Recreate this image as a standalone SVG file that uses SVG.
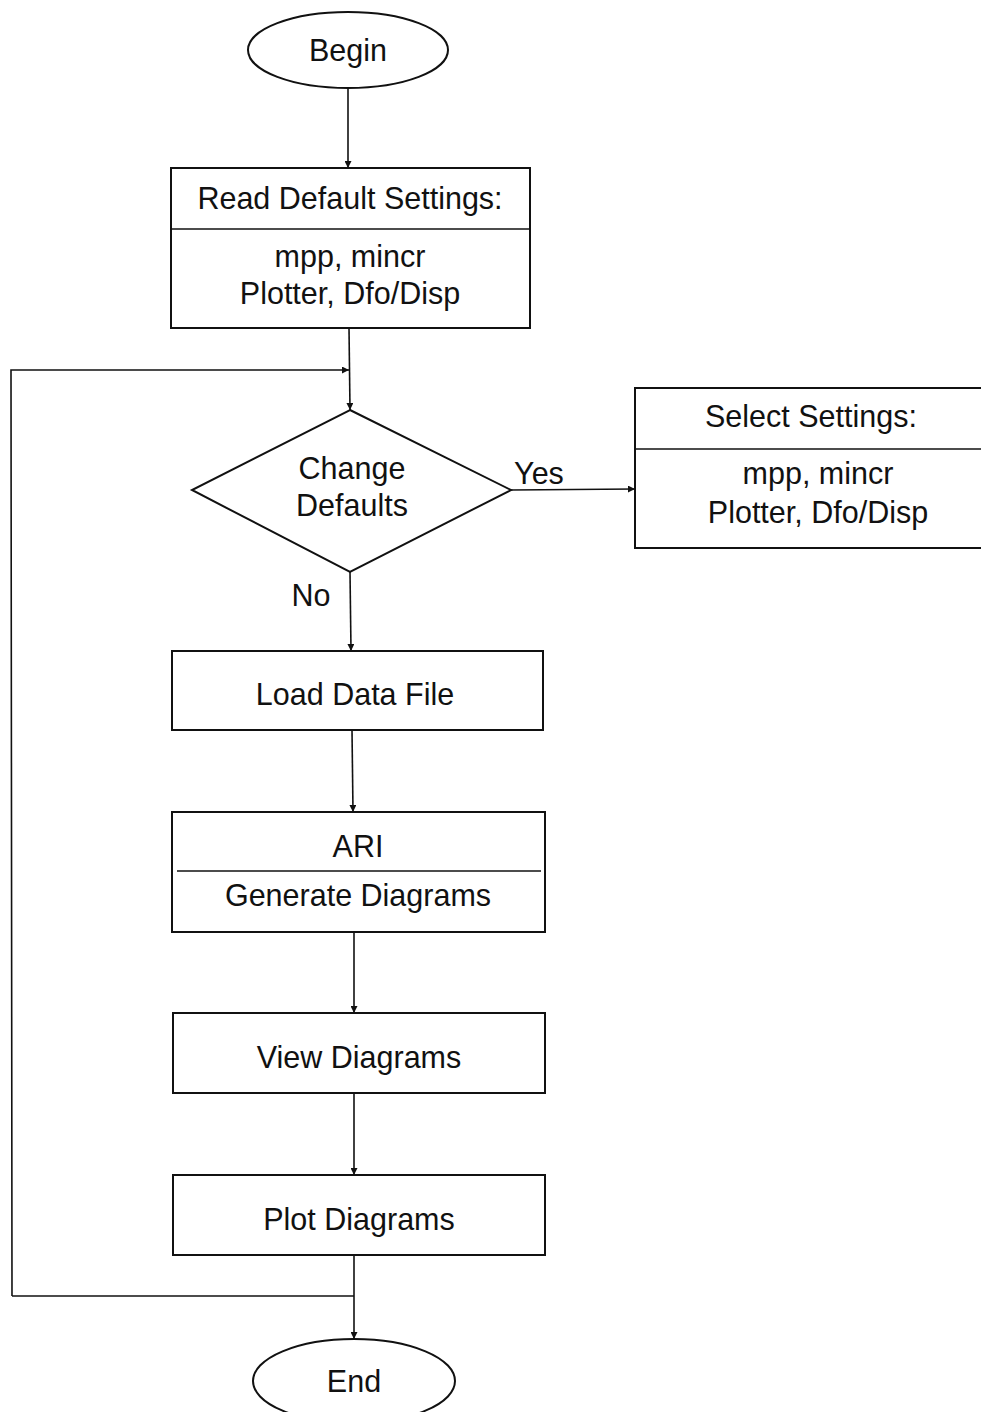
<svg xmlns="http://www.w3.org/2000/svg" width="981" height="1412" viewBox="0 0 981 1412">
  <style>
    .shape { fill: none; stroke: #111; stroke-width: 2; }
    .div { stroke: #111; stroke-width: 1.6; }
    .conn { fill: none; stroke: #111; stroke-width: 1.6; }
    text { font-family: "Liberation Sans", Arial, sans-serif; font-size: 30.5px; fill: #111; text-anchor: middle; }
  </style>
  <defs>
    <marker id="arrow" viewBox="0 0 10 10" refX="10" refY="5" markerWidth="7" markerHeight="7" markerUnits="userSpaceOnUse" orient="auto">
      <path d="M0,0 L10,5 L0,10 z" fill="#111"/>
    </marker>
  </defs>
  <rect width="981" height="1412" fill="#fff"/>

  <g id="connectors">
    <line class="conn" x1="348" y1="88" x2="348" y2="168" marker-end="url(#arrow)"/>
    <line class="conn" x1="349" y1="328" x2="350" y2="410" marker-end="url(#arrow)"/>
    <polyline class="conn" points="12,1296 11,370 349,370" marker-end="url(#arrow)"/>
    <line class="conn" x1="511" y1="490" x2="635" y2="489" marker-end="url(#arrow)"/>
    <line class="conn" x1="350" y1="572" x2="351" y2="651" marker-end="url(#arrow)"/>
    <line class="conn" x1="352" y1="730" x2="353" y2="812" marker-end="url(#arrow)"/>
    <line class="conn" x1="354" y1="932" x2="354" y2="1013" marker-end="url(#arrow)"/>
    <line class="conn" x1="354" y1="1093" x2="354" y2="1175" marker-end="url(#arrow)"/>
    <line class="conn" x1="354" y1="1255" x2="354" y2="1339" marker-end="url(#arrow)"/>
    <line class="conn" x1="12" y1="1296" x2="354" y2="1296"/>
    <text x="539" y="484">Yes</text>
    <text x="311" y="606">No</text>
  </g>

  <g id="begin">
    <ellipse class="shape" cx="348" cy="50" rx="100" ry="38"/>
    <text x="348" y="61">Begin</text>
  </g>

  <g id="read-defaults">
    <rect class="shape" x="171" y="168" width="359" height="160"/>
    <line class="div" x1="171" y1="229" x2="530" y2="229"/>
    <text x="350" y="209">Read Default Settings:</text>
    <text x="350" y="267">mpp, mincr</text>
    <text x="350" y="304">Plotter, Dfo/Disp</text>
  </g>

  <g id="change-defaults">
    <polygon class="shape" points="350,410 511,490 350,572 192,490"/>
    <text x="352" y="479">Change</text>
    <text x="352" y="516">Defaults</text>
  </g>

  <g id="select-settings">
    <rect class="shape" x="635" y="388" width="350" height="160"/>
    <line class="div" x1="635" y1="449" x2="981" y2="449"/>
    <text x="811" y="427">Select Settings:</text>
    <text x="818" y="484">mpp, mincr</text>
    <text x="818" y="523">Plotter, Dfo/Disp</text>
  </g>

  <g id="load-data">
    <rect class="shape" x="172" y="651" width="371" height="79"/>
    <text x="355" y="705">Load Data File</text>
  </g>

  <g id="ari">
    <rect class="shape" x="172" y="812" width="373" height="120"/>
    <line class="div" x1="177" y1="871" x2="541" y2="871"/>
    <text x="358" y="857">ARI</text>
    <text x="358" y="906">Generate Diagrams</text>
  </g>

  <g id="view">
    <rect class="shape" x="173" y="1013" width="372" height="80"/>
    <text x="359" y="1068">View Diagrams</text>
  </g>

  <g id="plot">
    <rect class="shape" x="173" y="1175" width="372" height="80"/>
    <text x="359" y="1230">Plot Diagrams</text>
  </g>

  <g id="end">
    <ellipse class="shape" cx="354" cy="1381" rx="101" ry="42"/>
    <text x="354" y="1392">End</text>
  </g>
</svg>
